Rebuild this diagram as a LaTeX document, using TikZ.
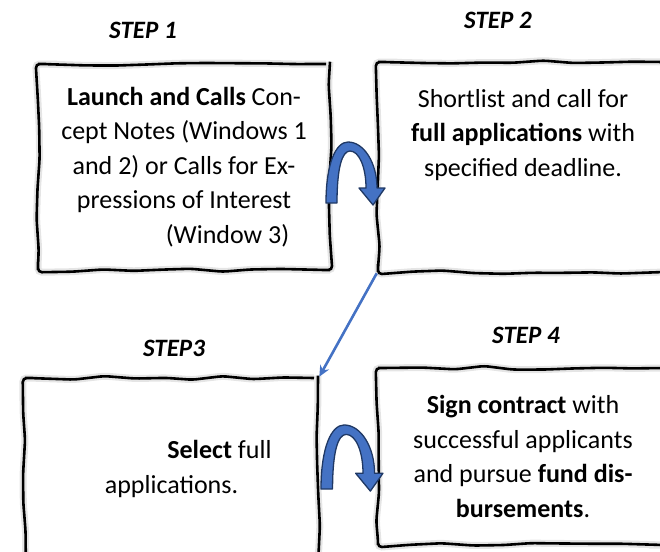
\documentclass[tikz,border=0pt]{standalone}
\usepackage{fontspec}
\setmainfont{Carlito}
\usetikzlibrary{positioning,decorations.pathmorphing,arrows.meta}
\definecolor{turnblue}{HTML}{4472C4}
\definecolor{turnline}{HTML}{1F3864}

\begin{document}
\pgfmathsetseed{11}
\begin{tikzpicture}[x=1pt,y=-1pt,
        step box/.style={rectangle,draw,line width=2.6pt,rounded corners=4pt,
            decorate,decoration={random steps,segment length=30pt,amplitude=2pt},
            preaction={draw=black!10,line width=7pt},
            inner sep=0pt,font=\fontsize{26}{34.5}\selectfont},
        step title/.style={font=\fontsize{25}{30}\selectfont\bfseries\itshape},
        link/.style={draw=turnblue,line width=2.6pt,-{Stealth[length=11pt,width=10pt]}},
        uturn/.pic={
            \fill[turnblue,draw=turnline,line width=1.3pt,line join=round]
            (0,0) .. controls (0,-40) and (10,-61) .. (22,-61)
            .. controls (38,-61) and (51,-40) .. (51,-15)
            -- (59,-15) -- (47,2) -- (33,-15) -- (40,-15)
            .. controls (40,-36) and (33,-52) .. (24,-52)
            .. controls (16,-52) and (11,-35) .. (11,0) -- cycle;}]

    \useasboundingbox (0,0) rectangle (660,551);

    % titles
    \node[step title] (t1) at (143,30) {STEP 1};
    \node[step title] (t2) at (498,20) {STEP 2};
    \node[step title] (t3) at (174,348) {STEP3};
    \node[step title] (t4) at (526,335) {STEP 4};

    % boxes
    \node[step box,minimum width=292pt,minimum height=206pt,align=center]
        (1) at (184,167) {\textbf{Launch and Calls} Con-\\cept Notes (Windows 1\\and 2) or Calls for Ex-\\pressions of Interest\\\hspace*{87pt}(Window 3)};
    \node[step box,minimum width=290pt,minimum height=210pt,align=center]
        (2) at (523,167) {Shortlist and call for\\\textbf{full applications} with\\specified deadline.\\~\\~};
    \node[step box,minimum width=293pt,minimum height=212pt,text width=200pt,align=flush center]
        (3) at (171.5,484) {\hspace*{0pt plus 1filll}\textbf{Select} full\\applications.\hspace*{0pt plus 1filll}\\~};
    \node[step box,minimum width=290pt,minimum height=177pt,align=center]
        (4) at (523,456.5) {\textbf{Sign contract} with\\successful applicants\\and pursue \textbf{fund dis-}\\\textbf{bursements}.};

    % turns
    \pic at (326,203) {uturn};
    \pic[scale=1.05] at (321,489) {uturn};

    \draw[link] (2.south west) -- (3.north east);

\end{tikzpicture}
\end{document}
